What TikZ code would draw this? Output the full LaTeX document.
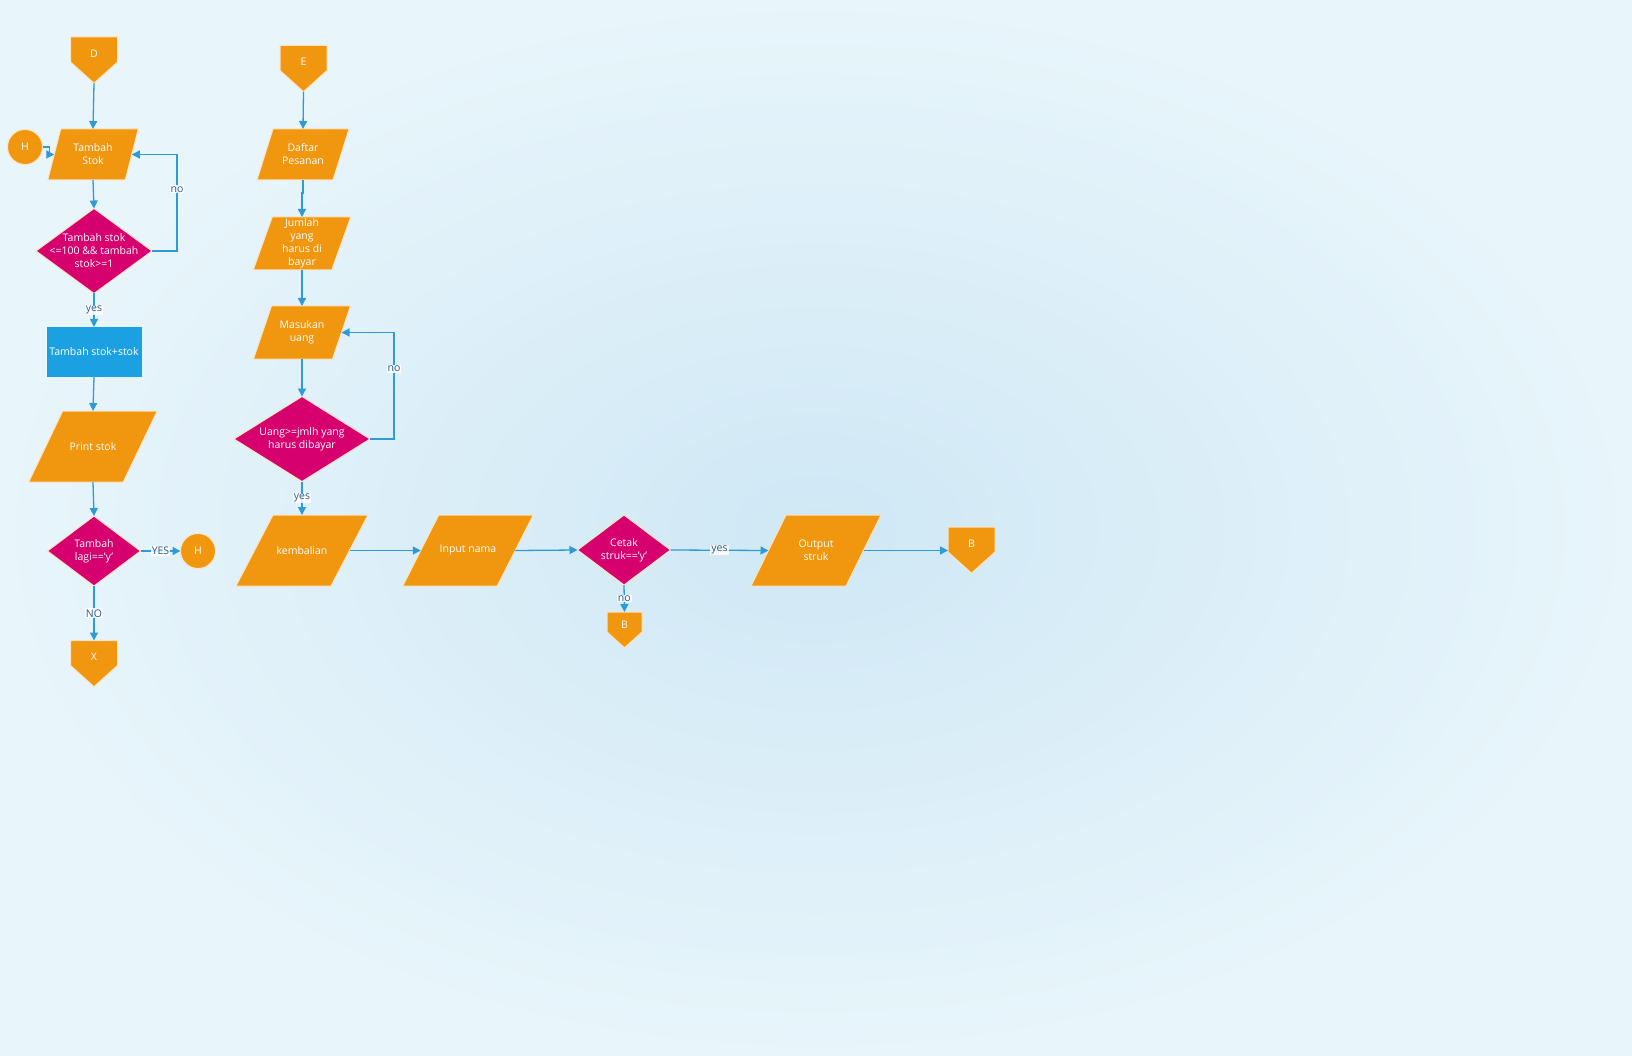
\documentclass[tikz,border=0pt]{standalone}
\usepackage{fontspec}
\setmainfont{Open Sans}
\usetikzlibrary{shapes.geometric,shapes.symbols,arrows.meta,backgrounds}

\definecolor{bgin}{HTML}{CFE8F5}
\definecolor{bgout}{HTML}{E8F5FB}
\definecolor{floworange}{HTML}{F0960F}
\definecolor{flowmagenta}{HTML}{D6006E}
\definecolor{flowblue}{HTML}{1BA1E2}
\definecolor{linkblue}{HTML}{2E9BD6}
\definecolor{labelblue}{HTML}{34597C}
\definecolor{rimcolor}{HTML}{FBE3C2}

\begin{document}
\begin{tikzpicture}[x=1pt,y=-1pt]

\def\gap{24pt}
\def\tsize{\fontsize{10.5}{13}\selectfont}

\tikzstyle{iotext} = [rectangle,minimum height=71pt,inner sep=0pt,outer sep=0pt,text=white,font=\tsize,align=center];
\tikzstyle{iofill} = [fill=floworange,draw=rimcolor,line width=1pt];
\tikzstyle{dec} = [diamond,fill=flowmagenta,draw=rimcolor,line width=1pt,inner sep=0pt,outer sep=0pt];
\tikzstyle{proc} = [rectangle,fill=flowblue,minimum width=95pt,minimum height=50pt,inner sep=0pt,outer sep=0pt,text=white,font=\tsize];
\tikzstyle{offpage} = [signal,signal to=south,signal pointer angle=96,fill=floworange,draw=rimcolor,line width=1pt,minimum width=47pt,minimum height=25pt,inner sep=0pt,outer sep=0pt];
\tikzstyle{jump} = [circle,fill=floworange,draw=rimcolor,line width=1pt,minimum size=35pt,inner sep=0pt,outer sep=0pt];
\tikzstyle{txt} = [text=white,font=\tsize,align=center,inner sep=0pt];
\tikzstyle{flow} = [draw=linkblue,line width=1.3pt,-{Triangle[length=8pt,width=8pt]}];
\tikzstyle{lbl} = [fill=white,fill opacity=0.85,text opacity=1,text=labelblue,font=\tsize,inner sep=1pt];

\useasboundingbox (0,0) rectangle (1632,1056);
\begin{scope}[on background layer]
\shade [inner color=bgin,outer color=bgout] (0,0) rectangle (1632,1056);
\end{scope}

% stock column
\node [offpage,label={[txt,yshift=-4pt]center:D}] (offd) at (94,49.5) {};
\node [jump,label={[txt]center:H}] (jumph) at (25,147) {};
\node [iotext,minimum width=77.5pt,minimum height=51pt] (addstock) at (93,154.5) {Tambah\\Stok};
\node [dec,minimum width=116pt,minimum height=85pt,label={[txt]center:{Tambah stok\\<=100 \&\& tambah\\stok>=1}}] (checkstock) at (94,251) {};
\node [proc] (update) at (94,352) {Tambah stok+stok};
\node [iotext,minimum width=94.5pt] (printstock) at (93,446.5) {Print stok};
\node [dec,minimum width=93pt,minimum height=70pt,label={[txt]center:{Tambah\\lagi=='y'}}] (again) at (94,551) {};
\node [jump,label={[txt]center:H}] (jumph2) at (198,551) {};
\node [offpage,label={[txt,yshift=-4pt]center:X}] (offx) at (94,653) {};

\draw [flow] (offd.south) -- (addstock.north);
\draw [flow] (jumph.east) -- ++(7,0) |- (addstock.west);
\draw [flow] (addstock.south) -- (checkstock.north);
\draw [flow] (checkstock.east) -- ++(25,0) |- node [lbl,pos=0.32] {no} (addstock.east);
\draw [flow] (checkstock.south) -- node [lbl] {yes} (update.north);
\draw [flow] (update.south) -- (printstock.north);
\draw [flow] (printstock.south) -- (again.north);
\draw [flow] (again.east) -- node [lbl] {YES} (jumph2.west);
\draw [flow] (again.south) -- node [lbl] {NO} (offx.north);

% order column
\node [offpage,label={[txt,yshift=-4pt]center:E}] (offe) at (303.5,58) {};
\node [iotext,minimum width=76pt,minimum height=51pt] (orders) at (303,154.5) {Daftar\\Pesanan};
\node [iotext,minimum width=78.5pt,minimum height=53pt] (total) at (302,243.5) {Jumlah\\yang\\harus di\\bayar};
\node [iotext,minimum width=79pt,minimum height=53pt] (money) at (302,332.5) {Masukan\\uang};
\node [dec,minimum width=136pt,minimum height=85pt,label={[txt]center:{Uang>=jmlh yang\\harus dibayar}}] (checkmoney) at (302,439) {};
\node [iotext,minimum width=95pt] (change) at (302,550.5) {kembalian};
\node [iotext,minimum width=94.5pt] (name) at (468,550.5) {Input nama};
\node [dec,minimum width=93pt,minimum height=70pt,label={[txt]center:{Cetak\\struk=='y'}}] (printask) at (624,550) {};
\node [iotext,minimum width=95pt] (receipt) at (816,550.5) {Output\\struk};
\node [offpage,label={[txt,yshift=-4pt]center:B}] (offb) at (971.5,539.5) {};
\node [offpage,minimum width=35pt,minimum height=20pt,label={[txt,yshift=-3pt]center:B}] (offb2) at (624.5,622) {};

\draw [flow] (offe.south) -- (orders.north);
\draw [flow] (orders.south) -- ++(0,13) -| (total.north);
\draw [flow] (total.south) -- (money.north);
\draw [flow] (money.south) -- (checkmoney.north);
\draw [flow] (checkmoney.east) -- ++(\gap,0) |- node [lbl,pos=0.33] {no} (money.east);
\draw [flow] (checkmoney.south) -- node [lbl] {yes} (change.north);
\draw [flow] (change.east) -- (name.west);
\draw [flow] (name.east) -- (printask.west);
\draw [flow] (printask.east) -- node [lbl] {yes} (receipt.west);
\draw [flow] (receipt.east) -- (receipt.east -| offb.west);
\draw [flow] (printask.south) -- node [lbl] {no} (offb2.north);

% slanted input/output boxes behind their texts
\begin{scope}[on background layer]
\filldraw [iofill] ([xshift=-6.5pt]addstock.south west) -- ([xshift=-6.5pt]addstock.south east) -- ([xshift=6.5pt]addstock.north east) -- ([xshift=6.5pt]addstock.north west) -- cycle;
\filldraw [iofill] ([xshift=-17pt]printstock.south west) -- ([xshift=-17pt]printstock.south east) -- ([xshift=17pt]printstock.north east) -- ([xshift=17pt]printstock.north west) -- cycle;
\filldraw [iofill] ([xshift=-8pt]orders.south west) -- ([xshift=-8pt]orders.south east) -- ([xshift=8pt]orders.north east) -- ([xshift=8pt]orders.north west) -- cycle;
\filldraw [iofill] ([xshift=-9.5pt]total.south west) -- ([xshift=-9.5pt]total.south east) -- ([xshift=9.5pt]total.north east) -- ([xshift=9.5pt]total.north west) -- cycle;
\filldraw [iofill] ([xshift=-9pt]money.south west) -- ([xshift=-9pt]money.south east) -- ([xshift=9pt]money.north east) -- ([xshift=9pt]money.north west) -- cycle;
\filldraw [iofill] ([xshift=-18.5pt]change.south west) -- ([xshift=-18.5pt]change.south east) -- ([xshift=18.5pt]change.north east) -- ([xshift=18.5pt]change.north west) -- cycle;
\filldraw [iofill] ([xshift=-18pt]name.south west) -- ([xshift=-18pt]name.south east) -- ([xshift=18pt]name.north east) -- ([xshift=18pt]name.north west) -- cycle;
\filldraw [iofill] ([xshift=-17.5pt]receipt.south west) -- ([xshift=-17.5pt]receipt.south east) -- ([xshift=17.5pt]receipt.north east) -- ([xshift=17.5pt]receipt.north west) -- cycle;
\end{scope}

\end{tikzpicture}
\end{document}
